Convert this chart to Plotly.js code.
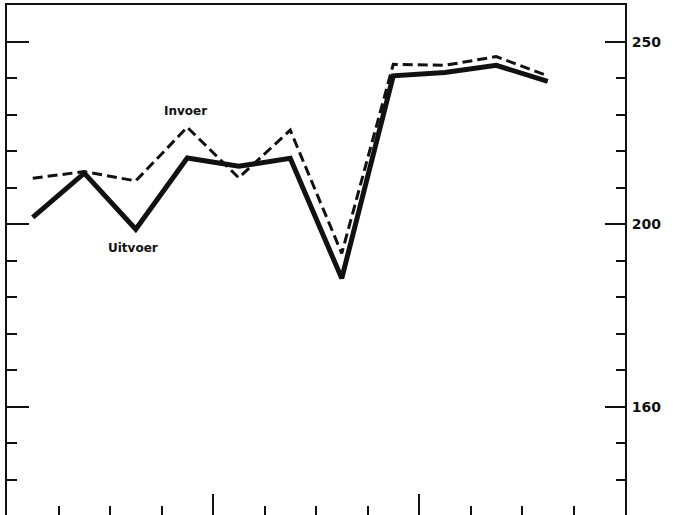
<!DOCTYPE html>
<html>
<head>
<meta charset="utf-8">
<script src="https://cdn.plot.ly/plotly-3.0.1.min.js"></script>
<style>
  html, body { margin: 0; padding: 0; background: #fff; overflow: hidden; }
  #chart { width: 678px; height: 516px; }
</style>
</head>
<body>
<div id="chart"></div>
<script>
// Periods (quarters over three years, 11 with data)
const periods = ['I', 'II', 'III', 'IV', 'I', 'II', 'III', 'IV', 'I', 'II', 'III'];

// Series values (index, log scale)
const uitvoer = [201.7, 212.9, 198.8, 216.9, 214.7, 216.8, 187.2, 239.8, 240.8, 242.9, 238.2];
const invoer  = [211.6, 213.3, 210.9, 225.2, 211.7, 224.4, 193.0, 243.2, 242.9, 245.5, 239.8];

// Tick labels on the right-hand axis
const majorTicks = [160, 200, 250];
const majorTickText = ['160', '200', '250'];
const minorTicks = [146.34, 153.02, 167.30, 174.94, 182.92, 191.27, 209.13, 218.67, 228.65, 239.09];

// Series labels
const seriesNames = ['Uitvoer', 'Invoer'];

const xs = periods.map((_, i) => i + 0.5);
const ink = '#111111';
const yRange = [Math.log10(140), Math.log10(261.5)];

const traces = [
  {
    x: xs, y: invoer, name: seriesNames[1], type: 'scatter', mode: 'lines',
    line: { color: ink, width: 3, dash: '10px,5px' }, yaxis: 'y', hoverinfo: 'skip'
  },
  {
    x: xs, y: uitvoer, name: seriesNames[0], type: 'scatter', mode: 'lines',
    line: { color: ink, width: 5 }, yaxis: 'y2', hoverinfo: 'skip'
  }
];

const layout = {
  width: 678, height: 516,
  margin: { l: 7, r: 53, t: 5, b: 0, pad: 0 },
  paper_bgcolor: '#ffffff', plot_bgcolor: '#ffffff',
  showlegend: false,
  font: { family: 'DejaVu Sans, sans-serif', color: ink, size: 12 },
  xaxis: {
    range: [0, 12], showgrid: false, zeroline: false,
    showline: true, mirror: true, linecolor: ink, linewidth: 2,
    tickmode: 'linear', tick0: 0, dtick: 4,
    ticks: 'inside', ticklen: 22, tickwidth: 2, tickcolor: ink,
    showticklabels: false,
    minor: { tickmode: 'linear', tick0: 0, dtick: 1, ticks: 'inside', ticklen: 10, tickwidth: 2, tickcolor: ink, showgrid: false }
  },
  yaxis: {
    type: 'log', range: yRange, side: 'left',
    showgrid: false, zeroline: false,
    showline: true, linecolor: ink, linewidth: 2,
    tickmode: 'array', tickvals: majorTicks, ticktext: majorTickText,
    ticks: 'inside', ticklen: 22, tickwidth: 2, tickcolor: ink,
    showticklabels: false,
    minor: { tickmode: 'array', tickvals: minorTicks, ticks: 'inside', ticklen: 10, tickwidth: 2, tickcolor: ink, showgrid: false }
  },
  yaxis2: {
    type: 'log', range: yRange, side: 'right', overlaying: 'y',
    showgrid: false, zeroline: false,
    showline: true, linecolor: ink, linewidth: 2,
    tickmode: 'array', tickvals: majorTicks, ticktext: majorTickText,
    ticks: 'inside', ticklen: 20, tickwidth: 2, tickcolor: ink,
    ticklabelstandoff: 2,
    tickfont: { family: 'DejaVu Sans, sans-serif', size: 14, color: ink, weight: 'bold' },
    minor: { tickmode: 'array', tickvals: minorTicks, ticks: 'inside', ticklen: 9, tickwidth: 2, tickcolor: ink, showgrid: false }
  },
  annotations: [
    {
      x: 3.47, y: Math.log10(229.6), xref: 'x', yref: 'y', text: seriesNames[1],
      showarrow: false, font: { family: 'DejaVu Sans, sans-serif', size: 12, color: ink, weight: 'bold' }
    },
    {
      x: 2.45, y: Math.log10(194.2), xref: 'x', yref: 'y', text: seriesNames[0],
      showarrow: false, font: { family: 'DejaVu Sans, sans-serif', size: 12, color: ink, weight: 'bold' }
    }
  ]
};

Plotly.newPlot('chart', traces, layout, { displayModeBar: false, staticPlot: true });
</script>
</body>
</html>
